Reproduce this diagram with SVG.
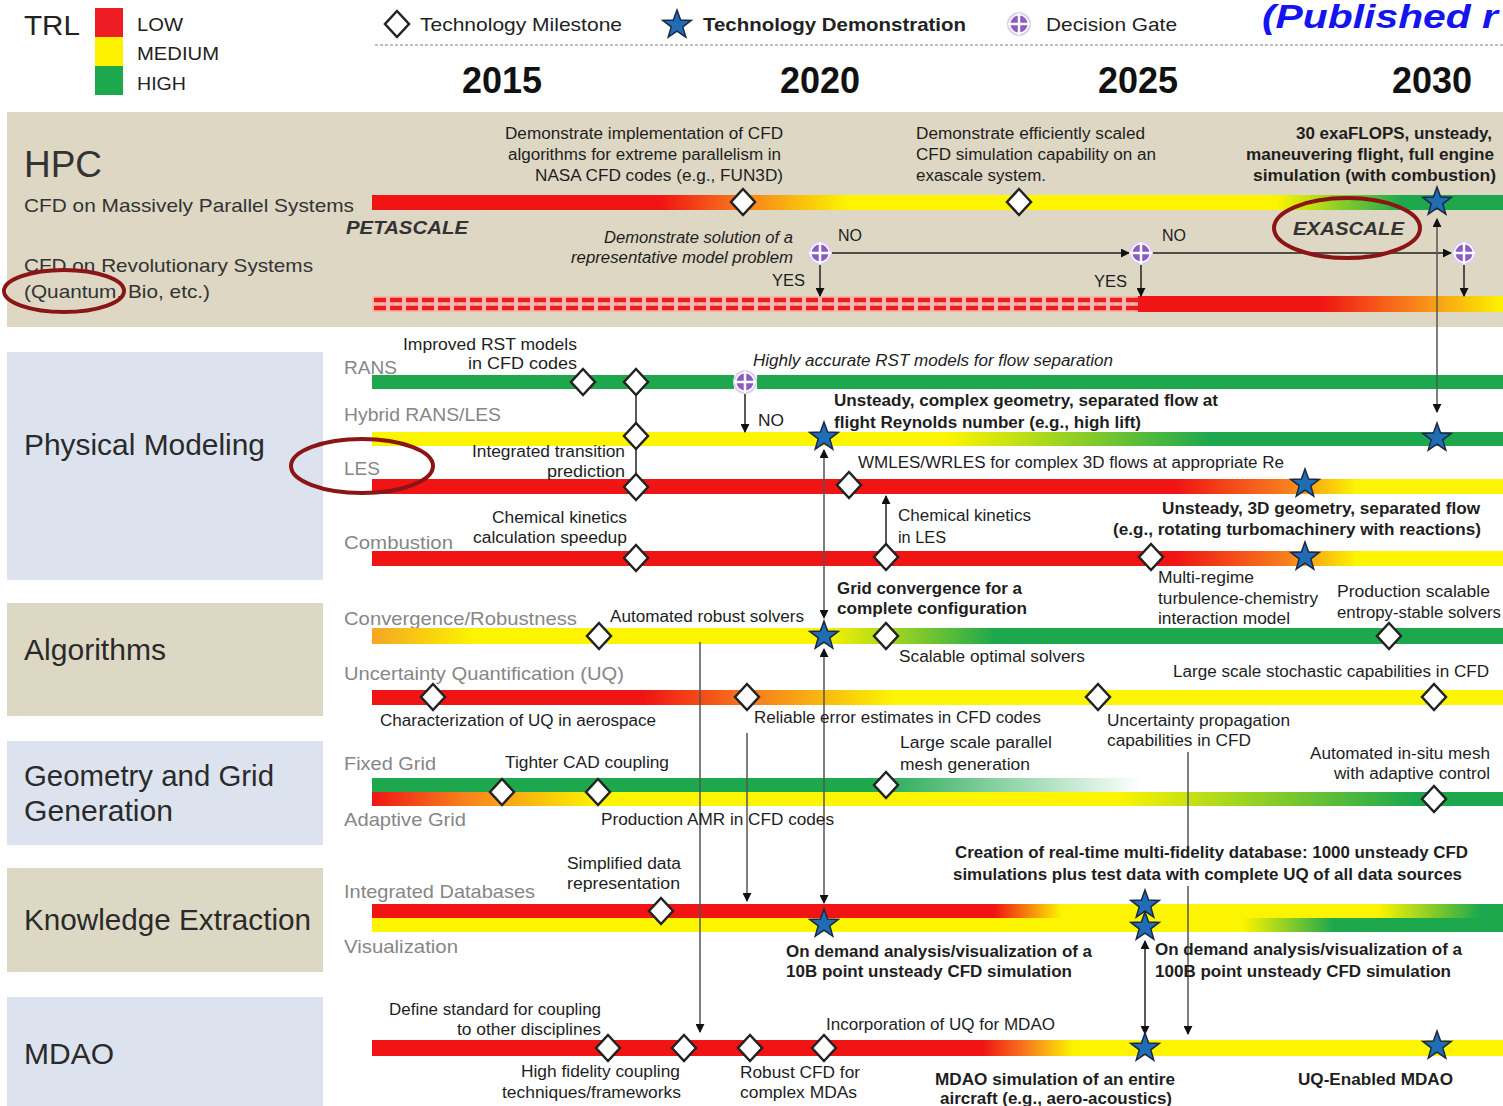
<svg xmlns="http://www.w3.org/2000/svg" xmlns:xlink="http://www.w3.org/1999/xlink" width="1503" height="1106" viewBox="0 0 1503 1106">
<style>
.t{font-family:"Liberation Sans",Arial,sans-serif;font-size:16px;fill:#1e1e1e}
.b{font-weight:bold}
.i{font-style:italic}
.lab{font-family:"Liberation Sans",Arial,sans-serif;font-size:19px;fill:#868686}
.sec{font-family:"Liberation Sans",Arial,sans-serif;font-size:30px;fill:#2a2a2a}
.leg{font-family:"Liberation Sans",Arial,sans-serif;font-size:19px;fill:#222}
.yr{font-family:"Liberation Sans",Arial,sans-serif;font-size:36px;font-weight:bold;fill:#111;text-anchor:middle}
.ln{stroke:#222;stroke-width:1.5;fill:none}
.lg{stroke:#555;stroke-width:1.5;fill:none}
.ring{fill:none;stroke:#8b1414;stroke-width:4}
</style>
<defs>
<path id="dia" d="M0,-13 L12,0 L0,13 L-12,0 Z" fill="#fff" stroke="#222" stroke-width="2.5"/>
<path id="star" d="M0,-15 L3.6,-5 L14.3,-4.6 L5.8,1.9 L8.8,12.1 L0,6.2 L-8.8,12.1 L-5.8,1.9 L-14.3,-4.6 L-3.6,-5 Z" fill="#1f6db5" stroke="#1b2745" stroke-width="1.5"/>
<g id="gate"><circle r="11" fill="#fff" stroke="#ddd0ee" stroke-width="2"/><circle r="8.5" fill="#8d5cc2"/><path d="M-11,0 H11 M0,-11 V11" stroke="#fff" stroke-width="2.5"/></g>
<marker id="ah" viewBox="0 0 10 10" refX="9" refY="5" markerWidth="9" markerHeight="9" markerUnits="userSpaceOnUse" orient="auto-start-reverse"><path d="M0,0 L10,5 L0,10 Z" fill="#111"/></marker>
<linearGradient id="gHpc1" gradientUnits="userSpaceOnUse" x1="372" y1="0" x2="1503" y2="0"><stop offset="0" stop-color="#f01414"/><stop offset="0.255" stop-color="#f01414"/><stop offset="0.33" stop-color="#f7801d"/><stop offset="0.42" stop-color="#fcf400"/><stop offset="0.80" stop-color="#fcf400"/><stop offset="0.91" stop-color="#1ea84e"/><stop offset="1" stop-color="#1ea84e"/></linearGradient>
<linearGradient id="gHpc2" gradientUnits="userSpaceOnUse" x1="1138" y1="0" x2="1503" y2="0"><stop offset="0" stop-color="#f01414"/><stop offset="0.5" stop-color="#f01414"/><stop offset="0.75" stop-color="#f7801d"/><stop offset="1" stop-color="#fcf400"/></linearGradient>
<linearGradient id="gHyb" gradientUnits="userSpaceOnUse" x1="372" y1="0" x2="1503" y2="0"><stop offset="0" stop-color="#fcf400"/><stop offset="0.51" stop-color="#fcf400"/><stop offset="0.74" stop-color="#1ea84e"/><stop offset="1" stop-color="#1ea84e"/></linearGradient>
<linearGradient id="gLes" gradientUnits="userSpaceOnUse" x1="372" y1="0" x2="1503" y2="0"><stop offset="0" stop-color="#f01414"/><stop offset="0.71" stop-color="#f01414"/><stop offset="0.81" stop-color="#f7801d"/><stop offset="0.87" stop-color="#fcf400"/><stop offset="1" stop-color="#fcf400"/></linearGradient>
<linearGradient id="gConv" gradientUnits="userSpaceOnUse" x1="372" y1="0" x2="1503" y2="0"><stop offset="0" stop-color="#f5a623"/><stop offset="0.09" stop-color="#fcf400"/><stop offset="0.40" stop-color="#fcf400"/><stop offset="0.55" stop-color="#1ea84e"/><stop offset="1" stop-color="#1ea84e"/></linearGradient>
<linearGradient id="gUq" gradientUnits="userSpaceOnUse" x1="372" y1="0" x2="1503" y2="0"><stop offset="0" stop-color="#f01414"/><stop offset="0.24" stop-color="#f01414"/><stop offset="0.34" stop-color="#f7801d"/><stop offset="0.46" stop-color="#fcf400"/><stop offset="1" stop-color="#fcf400"/></linearGradient>
<linearGradient id="gFix" gradientUnits="userSpaceOnUse" x1="372" y1="0" x2="1503" y2="0"><stop offset="0" stop-color="#1ea84e"/><stop offset="0.44" stop-color="#1ea84e"/><stop offset="0.68" stop-color="#1ea84e" stop-opacity="0"/><stop offset="1" stop-color="#1ea84e" stop-opacity="0"/></linearGradient>
<linearGradient id="gAda" gradientUnits="userSpaceOnUse" x1="372" y1="0" x2="1503" y2="0"><stop offset="0" stop-color="#f01414"/><stop offset="0.08" stop-color="#f7801d"/><stop offset="0.2" stop-color="#fcf400"/><stop offset="0.66" stop-color="#fcf400"/><stop offset="0.92" stop-color="#1ea84e"/><stop offset="1" stop-color="#1ea84e"/></linearGradient>
<linearGradient id="gDb" gradientUnits="userSpaceOnUse" x1="372" y1="0" x2="1503" y2="0"><stop offset="0" stop-color="#f01414"/><stop offset="0.55" stop-color="#f01414"/><stop offset="0.61" stop-color="#fcf400"/><stop offset="0.89" stop-color="#fcf400"/><stop offset="0.98" stop-color="#1ea84e"/><stop offset="1" stop-color="#1ea84e"/></linearGradient>
<linearGradient id="gVis" gradientUnits="userSpaceOnUse" x1="372" y1="0" x2="1503" y2="0"><stop offset="0" stop-color="#fcf400"/><stop offset="0.77" stop-color="#fcf400"/><stop offset="0.85" stop-color="#1ea84e"/><stop offset="1" stop-color="#1ea84e"/></linearGradient>
<linearGradient id="gMdao" gradientUnits="userSpaceOnUse" x1="372" y1="0" x2="1503" y2="0"><stop offset="0" stop-color="#f01414"/><stop offset="0.54" stop-color="#f01414"/><stop offset="0.58" stop-color="#f7801d"/><stop offset="0.62" stop-color="#fcf400"/><stop offset="1" stop-color="#fcf400"/></linearGradient>
</defs>
<rect width="1503" height="1106" fill="#fff"/>

<!-- Header / legend -->
<g id="legend">
<text x="24" y="35" style="font-family:'Liberation Sans',Arial,sans-serif;font-size:28px;fill:#222" textLength="56" lengthAdjust="spacingAndGlyphs">TRL</text>
<rect x="95" y="8" width="28" height="29" fill="#ee1c24"/>
<rect x="95" y="37" width="28" height="29" fill="#fff200"/>
<rect x="95" y="66" width="28" height="29" fill="#1ea84e"/>
<text class="leg" x="137" y="31" textLength="46" lengthAdjust="spacingAndGlyphs">LOW</text>
<text class="leg" x="137" y="60" textLength="82" lengthAdjust="spacingAndGlyphs">MEDIUM</text>
<text class="leg" x="137" y="90" textLength="49" lengthAdjust="spacingAndGlyphs">HIGH</text>
<use href="#dia" x="397" y="24"/>
<text class="leg" x="420" y="31" textLength="202" lengthAdjust="spacingAndGlyphs">Technology Milestone</text>
<use href="#star" x="677" y="25"/>
<text class="leg b" x="703" y="31" textLength="263" lengthAdjust="spacingAndGlyphs">Technology Demonstration</text>
<use href="#gate" x="1019" y="24"/>
<text class="leg" x="1046" y="31" textLength="131" lengthAdjust="spacingAndGlyphs">Decision Gate</text>
<text x="1262" y="28" style="font-family:'Liberation Sans',Arial,sans-serif;font-size:33px;font-weight:bold;font-style:italic;fill:#1414ee" textLength="236" lengthAdjust="spacingAndGlyphs">(Published r</text>
<line x1="375" y1="45" x2="1503" y2="45" stroke="#aaa" stroke-width="1.5" stroke-dasharray="3 2"/>
<text class="yr" x="502" y="93">2015</text>
<text class="yr" x="820" y="93">2020</text>
<text class="yr" x="1138" y="93">2025</text>
<text class="yr" x="1432" y="93">2030</text>
</g>

<!-- Section backgrounds -->
<g id="sections">
<rect x="7" y="112" width="1496" height="215" fill="#ddd7c3"/>
<rect x="7" y="352" width="316" height="228" fill="#dde3ee"/>
<rect x="7" y="603" width="316" height="113" fill="#ddd8c4"/>
<rect x="7" y="741" width="316" height="104" fill="#dde3ee"/>
<rect x="7" y="868" width="316" height="104" fill="#ddd8c4"/>
<rect x="7" y="997" width="316" height="109" fill="#dde3ee"/>
<text x="24" y="177" style="font-family:'Liberation Sans',Arial,sans-serif;font-size:36px;fill:#333" textLength="78" lengthAdjust="spacingAndGlyphs">HPC</text>
<text class="sec" x="24" y="455" textLength="241" lengthAdjust="spacingAndGlyphs">Physical Modeling</text>
<text class="sec" x="24" y="660" textLength="142" lengthAdjust="spacingAndGlyphs">Algorithms</text>
<text class="sec" x="24" y="786" textLength="250" lengthAdjust="spacingAndGlyphs">Geometry and Grid</text>
<text class="sec" x="24" y="821" textLength="149" lengthAdjust="spacingAndGlyphs">Generation</text>
<text class="sec" x="24" y="930" textLength="287" lengthAdjust="spacingAndGlyphs">Knowledge Extraction</text>
<text class="sec" x="24" y="1064" textLength="90" lengthAdjust="spacingAndGlyphs">MDAO</text>
</g>

<!-- Row labels -->
<g id="rowlabels">
<text class="leg" x="24" y="212" textLength="330" lengthAdjust="spacingAndGlyphs" style="fill:#333">CFD on Massively Parallel Systems</text>
<text class="leg b i" x="346" y="234" textLength="122" lengthAdjust="spacingAndGlyphs" style="fill:#333">PETASCALE</text>
<text class="leg" x="24" y="272" textLength="289" lengthAdjust="spacingAndGlyphs" style="fill:#333">CFD on Revolutionary Systems</text>
<text class="leg" x="24" y="298" textLength="186" lengthAdjust="spacingAndGlyphs" style="fill:#333">(Quantum, Bio, etc.)</text>
<text class="lab" x="344" y="374" textLength="53" lengthAdjust="spacingAndGlyphs">RANS</text>
<text class="lab" x="344" y="421" textLength="157" lengthAdjust="spacingAndGlyphs">Hybrid RANS/LES</text>
<text class="lab" x="344" y="475" textLength="36" lengthAdjust="spacingAndGlyphs">LES</text>
<text class="lab" x="344" y="549" textLength="109" lengthAdjust="spacingAndGlyphs">Combustion</text>
<text class="lab" x="344" y="625" textLength="233" lengthAdjust="spacingAndGlyphs">Convergence/Robustness</text>
<text class="lab" x="344" y="680" textLength="280" lengthAdjust="spacingAndGlyphs">Uncertainty Quantification (UQ)</text>
<text class="lab" x="344" y="770" textLength="92" lengthAdjust="spacingAndGlyphs">Fixed Grid</text>
<text class="lab" x="344" y="826" textLength="122" lengthAdjust="spacingAndGlyphs">Adaptive Grid</text>
<text class="lab" x="344" y="898" textLength="191" lengthAdjust="spacingAndGlyphs">Integrated Databases</text>
<text class="lab" x="344" y="953" textLength="114" lengthAdjust="spacingAndGlyphs">Visualization</text>
</g>

<!-- Bars -->
<g id="bars">
<rect x="372" y="195" width="1131" height="15" fill="url(#gHpc1)"/>
<rect x="372" y="296" width="766" height="16" fill="#f6b7ae"/>
<line x1="374" y1="300" x2="1138" y2="300" stroke="#ee1c1c" stroke-width="4.5" stroke-dasharray="12 4"/>
<line x1="374" y1="308" x2="1138" y2="308" stroke="#ee1c1c" stroke-width="4.5" stroke-dasharray="12 4"/>
<rect x="1138" y="296" width="365" height="16" fill="url(#gHpc2)"/>
<rect x="372" y="375" width="362" height="14" fill="#1ea84e"/>
<rect x="757" y="375" width="746" height="14" fill="#1ea84e"/>
<rect x="372" y="432" width="1131" height="14" fill="url(#gHyb)"/>
<rect x="372" y="479" width="1131" height="15" fill="url(#gLes)"/>
<rect x="372" y="551" width="1131" height="15" fill="url(#gLes)"/>
<rect x="372" y="628" width="1131" height="16" fill="url(#gConv)"/>
<rect x="372" y="690" width="1131" height="15" fill="url(#gUq)"/>
<rect x="372" y="778" width="1131" height="14" fill="url(#gFix)"/>
<rect x="372" y="792" width="1131" height="14" fill="url(#gAda)"/>
<rect x="372" y="904" width="1131" height="14" fill="url(#gDb)"/>
<rect x="372" y="918" width="1131" height="14" fill="url(#gVis)"/>
<rect x="372" y="1040" width="1131" height="16" fill="url(#gMdao)"/>
</g>

<!-- Connectors -->
<g id="connectors">
<line class="ln" x1="832" y1="253" x2="1129" y2="253" marker-end="url(#ah)"/>
<line class="ln" x1="1153" y1="253" x2="1451" y2="253" marker-end="url(#ah)"/>
<line class="ln" x1="820" y1="265" x2="820" y2="296" marker-end="url(#ah)"/>
<line class="ln" x1="1141" y1="265" x2="1141" y2="296" marker-end="url(#ah)"/>
<line class="ln" x1="1464" y1="265" x2="1464" y2="296" marker-end="url(#ah)"/>
<line class="lg" x1="1437" y1="219" x2="1437" y2="412" marker-start="url(#ah)" marker-end="url(#ah)"/>
<line class="ln" x1="636" y1="382" x2="636" y2="487"/>
<line class="ln" x1="745" y1="394" x2="745" y2="432" marker-end="url(#ah)"/>
<line class="lg" x1="824" y1="450" x2="824" y2="618" marker-start="url(#ah)" marker-end="url(#ah)"/>
<line class="lg" x1="824" y1="649" x2="824" y2="903" marker-start="url(#ah)" marker-end="url(#ah)"/>
<line class="ln" x1="886" y1="545" x2="886" y2="496" marker-end="url(#ah)"/>
<line class="lg" x1="700" y1="642" x2="700" y2="1032" marker-end="url(#ah)"/>
<line class="lg" x1="747" y1="733" x2="747" y2="901" marker-end="url(#ah)"/>
<line class="lg" x1="1188" y1="752" x2="1188" y2="846"/>
<line class="lg" x1="1188" y1="886" x2="1188" y2="1034" marker-end="url(#ah)"/>
<line class="ln" x1="1145" y1="941" x2="1145" y2="1034" marker-start="url(#ah)" marker-end="url(#ah)"/>
</g>

<!-- HPC nodes -->
<g id="hpc-m1"><use href="#dia" x="743" y="202"/>
<text class="t" x="505" y="139" textLength="278" lengthAdjust="spacingAndGlyphs">Demonstrate implementation of CFD</text>
<text class="t" x="508" y="160" textLength="273" lengthAdjust="spacingAndGlyphs">algorithms for extreme parallelism in</text>
<text class="t" x="535" y="181" textLength="248" lengthAdjust="spacingAndGlyphs">NASA CFD codes (e.g., FUN3D)</text></g>
<g id="hpc-m2"><use href="#dia" x="1019" y="202"/>
<text class="t" x="916" y="139" textLength="229" lengthAdjust="spacingAndGlyphs">Demonstrate efficiently scaled</text>
<text class="t" x="916" y="160" textLength="240" lengthAdjust="spacingAndGlyphs">CFD simulation capability on an</text>
<text class="t" x="916" y="181" textLength="130" lengthAdjust="spacingAndGlyphs">exascale system.</text></g>
<g id="hpc-s1"><use href="#star" x="1437" y="202"/>
<text class="t b" x="1296" y="139" textLength="196" lengthAdjust="spacingAndGlyphs">30 exaFLOPS, unsteady,</text>
<text class="t b" x="1246" y="160" textLength="248" lengthAdjust="spacingAndGlyphs">maneuvering flight, full engine</text>
<text class="t b" x="1253" y="181" textLength="243" lengthAdjust="spacingAndGlyphs">simulation (with combustion)</text></g>
<g id="exascale"><text class="leg b i" x="1293" y="235" textLength="111" lengthAdjust="spacingAndGlyphs" style="fill:#333">EXASCALE</text></g>
<g id="gate1"><use href="#gate" x="820" y="253"/>
<text class="t i" x="604" y="243" textLength="189" lengthAdjust="spacingAndGlyphs">Demonstrate solution of a</text>
<text class="t i" x="571" y="263" textLength="222" lengthAdjust="spacingAndGlyphs">representative model problem</text>
<text class="t" x="838" y="241" textLength="24" lengthAdjust="spacingAndGlyphs">NO</text>
<text class="t" x="772" y="286" textLength="33" lengthAdjust="spacingAndGlyphs">YES</text></g>
<g id="gate2"><use href="#gate" x="1141" y="253"/>
<text class="t" x="1162" y="241" textLength="24" lengthAdjust="spacingAndGlyphs">NO</text>
<text class="t" x="1094" y="287" textLength="33" lengthAdjust="spacingAndGlyphs">YES</text></g>
<g id="gate3"><use href="#gate" x="1464" y="253"/></g>

<!-- Physical modeling nodes -->
<g id="rans-m1"><use href="#dia" x="583" y="382"/>
<text class="t" x="403" y="350" textLength="174" lengthAdjust="spacingAndGlyphs">Improved RST models</text>
<text class="t" x="468" y="369" textLength="109" lengthAdjust="spacingAndGlyphs">in CFD codes</text></g>
<g id="rans-m2"><use href="#dia" x="636" y="382"/></g>
<g id="rans-gate"><use href="#gate" x="745" y="382"/>
<text class="t i" x="753" y="366" textLength="360" lengthAdjust="spacingAndGlyphs">Highly  accurate RST models for flow separation</text>
<text class="t" x="758" y="426" textLength="26" lengthAdjust="spacingAndGlyphs">NO</text></g>
<g id="hyb-m1"><use href="#dia" x="636" y="436"/></g>
<g id="hyb-s1"><use href="#star" x="824" y="437"/>
<text class="t b" x="834" y="406" textLength="384" lengthAdjust="spacingAndGlyphs">Unsteady, complex geometry, separated flow at</text>
<text class="t b" x="834" y="428" textLength="307" lengthAdjust="spacingAndGlyphs">flight Reynolds number (e.g., high lift)</text></g>
<g id="hyb-s2"><use href="#star" x="1437" y="438"/></g>
<g id="les-m1"><use href="#dia" x="636" y="487"/>
<text class="t" x="472" y="457" textLength="153" lengthAdjust="spacingAndGlyphs">Integrated transition</text>
<text class="t" x="547" y="477" textLength="78" lengthAdjust="spacingAndGlyphs">prediction</text></g>
<g id="les-m2"><use href="#dia" x="849" y="485"/>
<text class="t" x="858" y="468" textLength="426" lengthAdjust="spacingAndGlyphs">WMLES/WRLES for complex 3D flows at appropriate Re</text></g>
<g id="les-s1"><use href="#star" x="1305" y="484"/></g>
<g id="comb-m1"><use href="#dia" x="636" y="558"/>
<text class="t" x="492" y="523" textLength="135" lengthAdjust="spacingAndGlyphs">Chemical kinetics</text>
<text class="t" x="473" y="543" textLength="154" lengthAdjust="spacingAndGlyphs">calculation speedup</text></g>
<g id="comb-m2"><use href="#dia" x="886" y="557"/>
<text class="t" x="898" y="521" textLength="133" lengthAdjust="spacingAndGlyphs">Chemical kinetics</text>
<text class="t" x="898" y="543" textLength="48" lengthAdjust="spacingAndGlyphs">in LES</text></g>
<g id="comb-m3"><use href="#dia" x="1151" y="557"/>
<text class="t" x="1158" y="583" textLength="96" lengthAdjust="spacingAndGlyphs">Multi-regime</text>
<text class="t" x="1158" y="604" textLength="160" lengthAdjust="spacingAndGlyphs">turbulence-chemistry</text>
<text class="t" x="1158" y="624" textLength="132" lengthAdjust="spacingAndGlyphs">interaction model</text></g>
<g id="comb-s1"><use href="#star" x="1305" y="557"/>
<text class="t b" x="1162" y="514" textLength="318" lengthAdjust="spacingAndGlyphs">Unsteady, 3D geometry, separated flow</text>
<text class="t b" x="1113" y="535" textLength="368" lengthAdjust="spacingAndGlyphs">(e.g., rotating turbomachinery with reactions)</text></g>

<!-- Algorithms nodes -->
<g id="conv-m1"><use href="#dia" x="599" y="636"/>
<text class="t" x="610" y="622" textLength="194" lengthAdjust="spacingAndGlyphs">Automated robust solvers</text></g>
<g id="conv-s1"><use href="#star" x="824" y="636"/>
<text class="t b" x="837" y="594" textLength="185" lengthAdjust="spacingAndGlyphs">Grid convergence for a</text>
<text class="t b" x="837" y="614" textLength="190" lengthAdjust="spacingAndGlyphs">complete configuration</text></g>
<g id="conv-m2"><use href="#dia" x="886" y="636"/>
<text class="t" x="899" y="662" textLength="186" lengthAdjust="spacingAndGlyphs">Scalable optimal solvers</text></g>
<g id="conv-m3"><use href="#dia" x="1389" y="636"/>
<text class="t" x="1337" y="597" textLength="153" lengthAdjust="spacingAndGlyphs">Production scalable</text>
<text class="t" x="1337" y="618" textLength="164" lengthAdjust="spacingAndGlyphs">entropy-stable solvers</text></g>
<g id="uq-m1"><use href="#dia" x="433" y="697"/>
<text class="t" x="380" y="726" textLength="276" lengthAdjust="spacingAndGlyphs">Characterization of UQ in aerospace</text></g>
<g id="uq-m2"><use href="#dia" x="747" y="697"/>
<text class="t" x="754" y="723" textLength="287" lengthAdjust="spacingAndGlyphs">Reliable error estimates in CFD codes</text></g>
<g id="uq-m3"><use href="#dia" x="1098" y="697"/>
<text class="t" x="1107" y="726" textLength="183" lengthAdjust="spacingAndGlyphs">Uncertainty propagation</text>
<text class="t" x="1107" y="746" textLength="144" lengthAdjust="spacingAndGlyphs">capabilities in CFD</text></g>
<g id="uq-m4"><use href="#dia" x="1434" y="697"/>
<text class="t" x="1173" y="677" textLength="316" lengthAdjust="spacingAndGlyphs">Large scale stochastic capabilities in CFD</text></g>

<!-- Geometry and Grid nodes -->
<g id="grid-m1"><use href="#dia" x="502" y="792"/>
<text class="t" x="505" y="768" textLength="164" lengthAdjust="spacingAndGlyphs">Tighter CAD coupling</text></g>
<g id="grid-m2"><use href="#dia" x="598" y="792"/>
<text class="t" x="601" y="825" textLength="233" lengthAdjust="spacingAndGlyphs">Production AMR in CFD codes</text></g>
<g id="grid-m3"><use href="#dia" x="886" y="785"/>
<text class="t" x="900" y="748" textLength="152" lengthAdjust="spacingAndGlyphs">Large scale parallel</text>
<text class="t" x="900" y="770" textLength="130" lengthAdjust="spacingAndGlyphs">mesh generation</text></g>
<g id="grid-m4"><use href="#dia" x="1434" y="799"/>
<text class="t" x="1310" y="759" textLength="180" lengthAdjust="spacingAndGlyphs">Automated in-situ mesh</text>
<text class="t" x="1334" y="779" textLength="156" lengthAdjust="spacingAndGlyphs">with adaptive control</text></g>

<!-- Knowledge extraction nodes -->
<g id="db-m1"><use href="#dia" x="661" y="911"/>
<text class="t" x="567" y="869" textLength="114" lengthAdjust="spacingAndGlyphs">Simplified data</text>
<text class="t" x="567" y="889" textLength="113" lengthAdjust="spacingAndGlyphs">representation</text></g>
<g id="vis-s1"><use href="#star" x="824" y="924"/>
<text class="t b" x="786" y="957" textLength="306" lengthAdjust="spacingAndGlyphs">On demand analysis/visualization of a</text>
<text class="t b" x="786" y="977" textLength="286" lengthAdjust="spacingAndGlyphs">10B point unsteady CFD simulation</text></g>
<g id="db-s1"><use href="#star" x="1145" y="905"/>
<text class="t b" x="955" y="858" textLength="513" lengthAdjust="spacingAndGlyphs">Creation of real-time multi-fidelity database: 1000 unsteady CFD</text>
<text class="t b" x="953" y="880" textLength="509" lengthAdjust="spacingAndGlyphs">simulations plus test data with complete UQ of all data sources</text></g>
<g id="vis-s2"><use href="#star" x="1145" y="927"/>
<text class="t b" x="1155" y="955" textLength="307" lengthAdjust="spacingAndGlyphs">On demand analysis/visualization of a</text>
<text class="t b" x="1155" y="977" textLength="296" lengthAdjust="spacingAndGlyphs">100B point unsteady CFD simulation</text></g>

<!-- MDAO nodes -->
<g id="mdao-m1"><use href="#dia" x="608" y="1048"/>
<text class="t" x="389" y="1015" textLength="212" lengthAdjust="spacingAndGlyphs">Define standard for coupling</text>
<text class="t" x="457" y="1035" textLength="144" lengthAdjust="spacingAndGlyphs">to other disciplines</text></g>
<g id="mdao-m2"><use href="#dia" x="684" y="1048"/>
<text class="t" x="521" y="1077" textLength="159" lengthAdjust="spacingAndGlyphs">High fidelity coupling</text>
<text class="t" x="502" y="1098" textLength="179" lengthAdjust="spacingAndGlyphs">techniques/frameworks</text></g>
<g id="mdao-m3"><use href="#dia" x="750" y="1048"/>
<text class="t" x="740" y="1078" textLength="120" lengthAdjust="spacingAndGlyphs">Robust CFD for</text>
<text class="t" x="740" y="1098" textLength="117" lengthAdjust="spacingAndGlyphs">complex MDAs</text></g>
<g id="mdao-m4"><use href="#dia" x="824" y="1048"/>
<text class="t" x="826" y="1030" textLength="229" lengthAdjust="spacingAndGlyphs">Incorporation of UQ for MDAO</text></g>
<g id="mdao-s1"><use href="#star" x="1145" y="1048"/>
<text class="t b" x="935" y="1085" textLength="240" lengthAdjust="spacingAndGlyphs">MDAO simulation of an entire</text>
<text class="t b" x="940" y="1104" textLength="232" lengthAdjust="spacingAndGlyphs">aircraft (e.g., aero-acoustics)</text></g>
<g id="mdao-s2"><use href="#star" x="1437" y="1046"/>
<text class="t b" x="1298" y="1085" textLength="155" lengthAdjust="spacingAndGlyphs">UQ-Enabled MDAO</text></g>

<!-- Highlight rings -->
<g id="rings">
<ellipse class="ring" cx="64" cy="291" rx="60" ry="21"/>
<ellipse class="ring" cx="1347" cy="228" rx="73" ry="30"/>
<ellipse class="ring" cx="362" cy="466" rx="71" ry="27"/>
</g>
</svg>
